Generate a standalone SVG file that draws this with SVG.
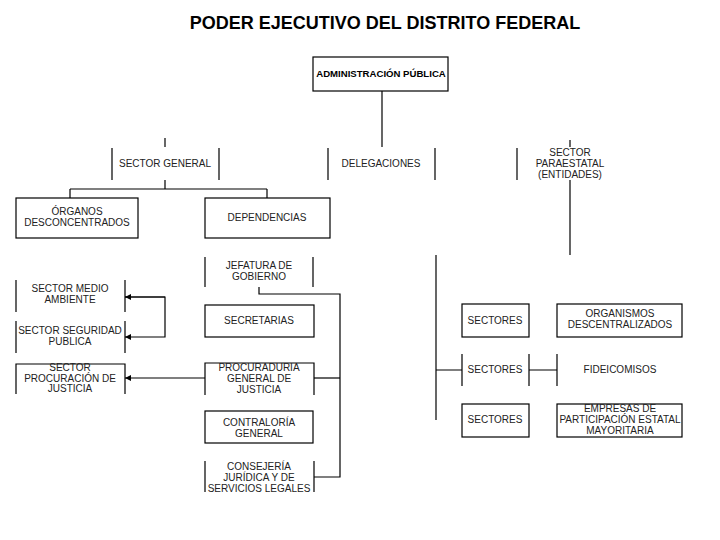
<svg xmlns="http://www.w3.org/2000/svg" width="720" height="540" viewBox="0 0 720 540">
<style>
text{font-family:"Liberation Sans",Arial,sans-serif;font-size:10px;fill:#222;text-anchor:middle}
.t{font-size:18px;font-weight:bold;fill:#000}
.b{font-weight:bold;font-size:9.6px;fill:#000}
.bx{fill:none;stroke:#000;stroke-width:1.2}
.ln{fill:none;stroke:#000;stroke-width:1.2}
</style>
<defs>
<marker id="ah" viewBox="0 0 10 10" refX="10" refY="5" markerWidth="5" markerHeight="5" orient="auto">
<path d="M0,0 L10,5 L0,10 z" fill="#000"/>
</marker>
</defs>
<rect width="720" height="540" fill="#fff"/>
<text class="t" x="385" y="29">PODER EJECUTIVO DEL DISTRITO FEDERAL</text>

<g id="connectors" class="ln">
<path d="M382,91 V147"/>
<path d="M165,138 V147"/>
<path d="M570,140 V147"/>
<path d="M165,180 V189 M70,189 H267 M70,189 V198 M267,189 V198"/>
<path d="M570,180 V255"/>
<path d="M259,287 V294 H340 V477 H314"/>
<path d="M340,378 H314"/>
<path d="M205,378 H125" marker-end="url(#ah)"/>
<path d="M125,297 H165 V337 H125" marker-end="url(#ah)"/>
<path d="M165,297 H125" marker-end="url(#ah)"/>
<path d="M436,255 V420"/>
<path d="M436,370 H462 M529,370 H557"/>
</g>

<g id="administracion">
<rect class="bx" x="313" y="57" width="135" height="34"/>
<text class="b" x="381" y="77">ADMINISTRACIÓN PÚBLICA</text>
</g>
<g id="sector-general">
<path class="ln" d="M112,148 V180 M219,148 V180"/>
<text x="165" y="167">SECTOR GENERAL</text>
</g>
<g id="delegaciones">
<path class="ln" d="M328,148 V180 M435,148 V180"/>
<text x="381" y="167">DELEGACIONES</text>
</g>
<g id="sector-paraestatal">
<path class="ln" d="M517,148 V180"/>
<text x="570" y="156">SECTOR</text>
<text x="570" y="167">PARAESTATAL</text>
<text x="570" y="178">(ENTIDADES)</text>
</g>
<g id="organos-desconcentrados">
<rect class="bx" x="16" y="198" width="122" height="40"/>
<text x="77" y="215">ÓRGANOS</text>
<text x="77" y="226">DESCONCENTRADOS</text>
</g>
<g id="dependencias">
<rect class="bx" x="205" y="198" width="125" height="40"/>
<text x="267" y="221">DEPENDENCIAS</text>
</g>
<g id="jefatura">
<path class="ln" d="M205,257 V287 M313,257 V287"/>
<text x="259" y="269">JEFATURA DE</text>
<text x="259" y="280">GOBIERNO</text>
</g>
<g id="secretarias">
<rect class="bx" x="205" y="305" width="109" height="32"/>
<text x="259" y="324">SECRETARIAS</text>
</g>
<g id="procuraduria">
<path class="ln" d="M205,395 V363 H314 V395"/>
<text x="259" y="371">PROCURADURIA</text>
<text x="259" y="382">GENERAL DE</text>
<text x="259" y="393">JUSTICIA</text>
</g>
<g id="contraloria">
<rect class="bx" x="205" y="411" width="108" height="32"/>
<text x="259" y="426">CONTRALORÍA</text>
<text x="259" y="437">GENERAL</text>
</g>
<g id="consejeria">
<path class="ln" d="M205,461 V492 M314,461 V492"/>
<text x="259" y="470">CONSEJERÍA</text>
<text x="259" y="481">JURÍDICA Y DE</text>
<text x="259" y="492">SERVICIOS LEGALES</text>
</g>
<g id="sector-medio-ambiente">
<path class="ln" d="M16,280 V312 M125,280 V312"/>
<text x="70" y="292">SECTOR MEDIO</text>
<text x="70" y="303">AMBIENTE</text>
</g>
<g id="sector-seguridad">
<path class="ln" d="M16,321 V353 M125,321 V353"/>
<text x="70" y="334">SECTOR SEGURIDAD</text>
<text x="70" y="345">PUBLICA</text>
</g>
<g id="sector-procuracion">
<path class="ln" d="M16,394 V364 H125 V394"/>
<text x="70" y="371">SECTOR</text>
<text x="70" y="382">PROCURACIÓN DE</text>
<text x="70" y="392">JUSTICIA</text>
</g>
<g id="sectores-1">
<rect class="bx" x="462" y="304" width="67" height="33"/>
<text x="495" y="324">SECTORES</text>
</g>
<g id="sectores-2">
<path class="ln" d="M462,354 V386 M529,354 V386"/>
<text x="495" y="373">SECTORES</text>
</g>
<g id="sectores-3">
<rect class="bx" x="462" y="404" width="67" height="33"/>
<text x="495" y="423">SECTORES</text>
</g>
<g id="organismos">
<rect class="bx" x="557" y="304" width="125" height="33"/>
<text x="620" y="317">ORGANISMOS</text>
<text x="620" y="328">DESCENTRALIZADOS</text>
</g>
<g id="fideicomisos">
<path class="ln" d="M557,354 V386"/>
<text x="620" y="373">FIDEICOMISOS</text>
</g>
<g id="empresas">
<rect class="bx" x="557" y="404" width="125" height="33"/>
<text x="620" y="412">EMPRESAS DE</text>
<text x="620" y="423">PARTICIPACIÓN ESTATAL</text>
<text x="620" y="434">MAYORITARIA</text>
</g>
</svg>
